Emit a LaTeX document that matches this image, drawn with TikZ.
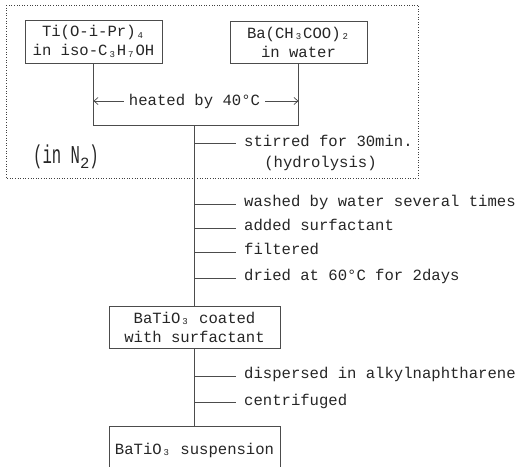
\documentclass[tikz,border=0pt]{standalone}
\usepackage{fontspec}
\setmainfont{Liberation Mono}
\usetikzlibrary{arrows.meta}
\newcommand\sbs[1]{\makebox[0.6em][c]{\raisebox{-1.5pt}{\fontsize{9}{9}\selectfont #1}}}
\tikzset{
  box/.style={draw=black!70, line width=0.7pt, align=center, inner sep=0pt, text=black!85},
  lab/.style={anchor=mid west, inner sep=0pt, text=black!85},
  ln/.style={draw=black!70, line width=0.7pt},
  dotbox/.style={draw=black!75, line width=0.8pt, dash pattern=on 0.8pt off 1.8pt},
  arr/.style={ln, -{Straight Barb[length=4pt,width=7pt]}}
}
\begin{document}
\begin{tikzpicture}[x=1pt, y=-1pt, font=\fontsize{15.6}{19}\selectfont]
\fill[white] (0,0) rectangle (522,466);
\clip (0,0) rectangle (522,466);
% dotted frame
\draw[dotbox] (6,5) rectangle (418.5,178);
% boxes
\node[box, minimum width=137pt, minimum height=43pt] (b1) at (93.5,41.5) {Ti(O-i-Pr)\sbs{4}\\in iso-C\sbs{3}H\sbs{7}OH};
\node[box, minimum width=137pt, minimum height=42pt] (b2) at (298.5,42) {Ba(CH\sbs{3}COO)\sbs{2}\\in water};
\node[box, minimum width=171pt, minimum height=42pt] (b3) at (194.5,327.2) {BaTiO\sbs{3} coated\\with surfactant};
\node[box, anchor=north, minimum width=171pt, minimum height=48pt] (b4) at (194.5,426) {BaTiO\sbs{3} suspension};
\coordinate (j) at (194.5,125);
% heated
\node[inner xsep=5pt, inner ysep=0pt, text=black!85] (heat) at (194.5,101) {heated by 40°C};
\node[inner sep=0pt, text=black!85] (n2) at (66,157) {\scalebox{1}[1.65]{(in N}\raisebox{-5pt}{2}\scalebox{1}[1.65]{)}};
% labels
\node[lab] (s1) at (244,143.5) {stirred for 30min.};
\node[anchor=base, inner sep=0pt, text=black!85] (hyd) at (320.5,167) {(hydrolysis)};
\node[lab] (w1) at (244,204) {washed by water several times};
\node[lab] (w2) at (244,228.3) {added surfactant};
\node[lab] (w3) at (244,252.3) {filtered};
\node[lab] (w4) at (244,278.3) {dried at 60°C for 2days};
\node[lab] (d1) at (244,376) {dispersed in alkylnaphtharene};
\node[lab] (d2) at (244,402.7) {centrifuged};
% connectors
\draw[ln] (b1.south) |- (j);
\draw[ln] (b2.south) |- (j);
\draw[ln] (j) -- (b3.north);
\draw[ln] (b3.south) -- (b4.north);
\draw[arr] (heat.west) -- (heat.west -| b1.south);
\draw[arr] (heat.east) -- (heat.east -| b2.south);
\foreach \n in {s1,w1,w2,w3,w4}{
  \draw[ln] (\n.mid west -| j) -- ([xshift=-8pt]\n.mid west);
}
\foreach \n in {d1,d2}{
  \draw[ln] (\n.mid west -| b3.south) -- ([xshift=-8pt]\n.mid west);
}
\end{tikzpicture}
\end{document}
